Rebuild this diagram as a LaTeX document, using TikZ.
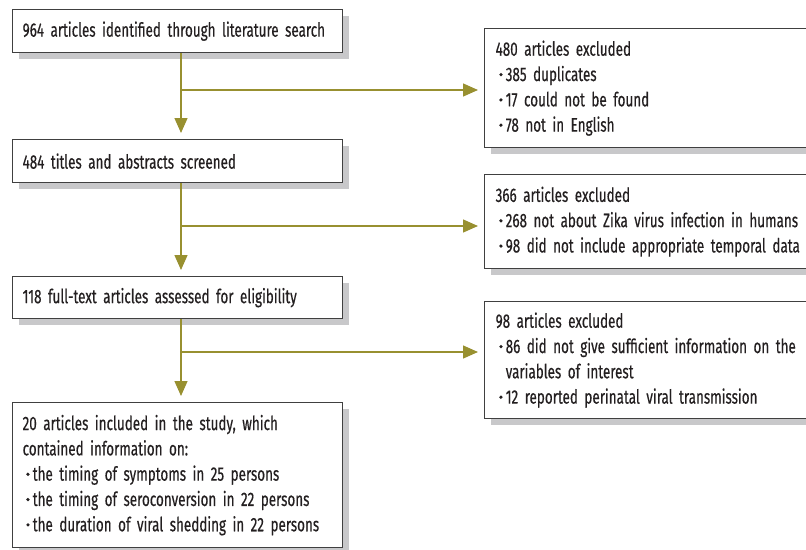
\documentclass[tikz,border=0pt]{standalone}
\usepackage{fontspec}
\setmainfont[FakeStretch=0.69, FakeBold=0.4]{Fira Sans}
\usetikzlibrary{arrows.meta,shadows}
\definecolor{olive}{RGB}{152,144,48}
\definecolor{boxline}{RGB}{64,64,64}
\definecolor{shade}{RGB}{200,200,202}
\definecolor{ink}{RGB}{35,31,32}
\tikzset{
     box/.style={draw=boxline, line width=1.3pt, fill=white, anchor=north west,
        align=left, inner xsep=10pt, inner ysep=0pt, text=ink,
        drop shadow={shadow xshift=6pt, shadow yshift=-6pt, fill=shade, opacity=1}},
     mainbox/.style={box, minimum width=328pt, text width=310pt},
     sidebox/.style={box, minimum width=330pt, text width=318pt, inner xsep=11pt},
     flow/.style={draw=olive, line width=1.3pt, ->, shorten >=6pt},
}
\tikzset{>={Triangle[length=15pt,width=13pt]}}
\newcommand{\bul}{\hspace*{3.5pt}\raisebox{0.45ex}{\tikz\fill[ink] circle (1.8pt);}\hspace{3pt}}
\newcommand{\bulgap}{\hspace*{10.1pt}}
\newcommand{\boxfont}{\fontsize{19.5}{25.3}\selectfont\hyphenpenalty=10000\relax}

\begin{document}
\begin{tikzpicture}[x=1pt, y=-1pt, font=\boxfont]
  \useasboundingbox (0,0) rectangle (806,549);

  % main column
  \node[mainbox, minimum height=43pt] (found) at (12,9)
     {964 articles identified through literature search};
  \node[mainbox, minimum height=43pt] (screen) at (12,139)
     {484 titles and abstracts screened};
  \node[mainbox, minimum height=42pt] (full) at (12,276)
     {118 full-text articles assessed for eligibility};
  \node[mainbox, minimum height=145pt] (incl) at (12,402)
     {20 articles included in the study, which\\
      contained information on:\\
      \bul the timing of symptoms in 25 persons\\
      \bul the timing of seroconversion in 22 persons\\
      \bul the duration of viral shedding in 22 persons};

  % exclusions
  \node[sidebox, minimum height=119pt] (excl1) at (484,28)
     {480 articles excluded\\
      \bul 385 duplicates\\
      \bul 17 could not be found\\
      \bul 78 not in English};
  \node[sidebox, minimum height=94pt] (excl2) at (484,174)
     {366 articles excluded\\
      \bul 268 not about Zika virus infection in humans\\
      \bul 98 did not include appropriate temporal data};
  \node[sidebox, minimum height=117pt] (excl3) at (484,301)
     {98 articles excluded\\
      \bul 86 did not give sufficient information on the\\
      \bulgap variables of interest\\
      \bul 12 reported perinatal viral transmission};

  \coordinate (spine) at (181,0);
  \coordinate (k1) at (181,90);
  \coordinate (k2) at (181,226);
  \coordinate (k3) at (181,352);

  \draw[flow] (found.south -| spine) -- (screen.north -| spine);
  \draw[flow] (screen.south -| spine) -- (full.north -| spine);
  \draw[flow] (full.south -| spine) -- (incl.north -| spine);

  \draw[flow] (k1) -- (k1 -| excl1.west);
  \draw[flow] (k2) -- (k2 -| excl2.west);
  \draw[flow] (k3) -- (k3 -| excl3.west);
\end{tikzpicture}
\end{document}
